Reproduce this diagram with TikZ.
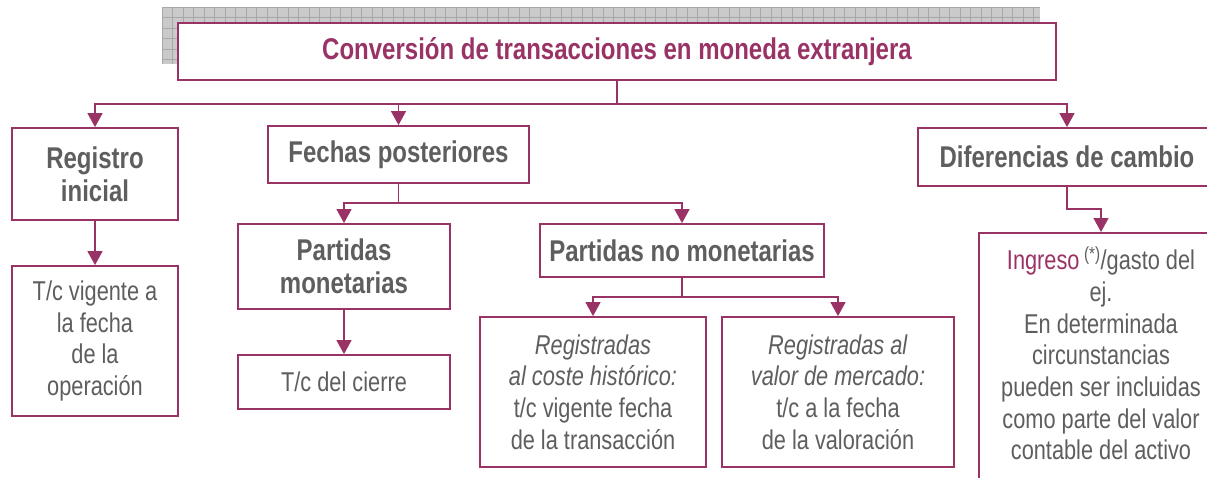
\documentclass[tikz,border=0pt]{standalone}
\usepackage{fontspec}
\setmainfont[FakeStretch=0.8]{Liberation Sans}
\usetikzlibrary{arrows.meta}
\definecolor{maroon}{HTML}{993366}
\definecolor{txt}{HTML}{5E5E5E}
\definecolor{shfill}{HTML}{CACACA}
\definecolor{shline}{HTML}{A8A8A8}
\begin{document}
\begin{tikzpicture}[x=1pt,y=-1pt,
  box/.style={draw=maroon, line width=1.8pt, fill=white, inner sep=0pt, align=center, text=txt},
  head/.style={font=\fontsize{30}{33}\selectfont\bfseries},
  body/.style={font=\fontsize{27.2}{31.7}\selectfont},
  conn/.style={draw=maroon, line width=1.4pt},
  arr/.style={conn, -{Triangle[width=15pt,length=14pt]}},
]
\useasboundingbox (0,0) rectangle (1207,477);
\clip (0,0) rectangle (1207,477);
% shadow of the title box
\fill[shfill] (162,7) rectangle (1040,64);
\begin{scope}
\clip (162,7) rectangle (1040,64);
\foreach \i in {0,...,84} {\draw[shline, line width=0.8pt] (162+\i*10.5,7) -- (162+\i*10.5,64);}
\foreach \j in {0,...,6} {\draw[shline, line width=0.8pt] (162,7+\j*10.5) -- (1040,7+\j*10.5);}
\end{scope}

\node[box, head, text=maroon, minimum width=878pt, minimum height=57pt] (title) at (617,51.5) {Conversión de transacciones en moneda extranjera};

\coordinate (bus1) at (0,104);
\coordinate (bus2) at (0,203);
\coordinate (bus3) at (0,297);
\coordinate (bus4) at (0,209);

\node[box, head, minimum width=166pt, minimum height=92pt] (reg) at (95,174) {Registro\\inicial};
\node[box, head, minimum width=261pt, minimum height=57pt] (fech) at (398.5,154.5) {Fechas posteriores};
\node[box, head, minimum width=298pt, minimum height=58pt] (dif) at (1067,157) {Diferencias de cambio};

\node[box, body, minimum width=166pt, minimum height=150pt] (vig) at (95,341) {T/c vigente a\\la fecha\\de la\\operación};

\node[box, head, minimum width=212pt, minimum height=85pt] (mon) at (344,266.5) {Partidas\\monetarias};
\node[box, head, minimum width=284pt, minimum height=53pt] (nomon) at (682,250.5) {Partidas no monetarias};

\node[box, body, minimum width=212pt, minimum height=54pt] (cierre) at (344,382) {T/c del cierre};

\node[box, body, minimum width=226pt, minimum height=150pt] (hist) at (593,392) {\textit{Registradas}\\\textit{al coste histórico:}\\t/c vigente fecha\\de la transacción};
\node[box, body, minimum width=232pt, minimum height=150pt] (merc) at (838,392) {\textit{Registradas al}\\\textit{valor de mercado:}\\t/c a la fecha\\de la valoración};

\node[box, body, anchor=north, minimum width=244pt, inner ysep=14pt] (ing) at (1101,232) {\textcolor{maroon}{Ingreso}\,\textsuperscript{(*)}/gasto del\\ej.\\En determinada\\circunstancias\\pueden ser incluidas\\como parte del valor\\contable del activo\\ };

\draw[conn] (title.south) -- (title.south |- bus1);
\draw[arr] (title.south |- bus1) -| (reg.north);
\draw[arr] (title.south |- bus1) -| (fech.north);
\draw[arr] (title.south |- bus1) -| (dif.north);

\draw[arr] (reg.south) -- (vig.north);

\draw[conn] (fech.south) -- (fech.south |- bus2);
\draw[arr] (fech.south |- bus2) -| (mon.north);
\draw[arr] (fech.south |- bus2) -| (nomon.north);

\draw[arr] (mon.south) -- (cierre.north);

\draw[conn] (nomon.south) -- (nomon.south |- bus3);
\draw[arr] (nomon.south |- bus3) -| (hist.north);
\draw[arr] (nomon.south |- bus3) -| (merc.north);

\draw[arr] (dif.south) -- (dif.south |- bus4) -| (ing.north);
\end{tikzpicture}
\end{document}
